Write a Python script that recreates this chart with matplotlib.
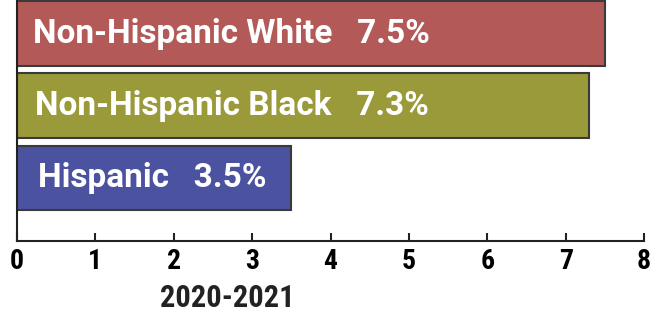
import matplotlib
matplotlib.use('Agg')
import matplotlib.pyplot as plt

# data
groups = ['Hispanic', 'Non-Hispanic Black', 'Non-Hispanic White']
values = [3.5, 7.3, 7.5]
colors = ['#4b53a0', '#9a9a3a', '#b35a58']
xticks = [0, 1, 2, 3, 4, 5, 6, 7, 8]
xlabel = '2020-2021'

narrow = ['Roboto Condensed', 'Liberation Sans Narrow', 'DejaVu Sans']
label_x = [0.27, 0.23, 0.2]

fig = plt.figure(figsize=(6.59, 3.14), dpi=100)
ax = fig.add_axes([17/659, 73/314, 627/659, 241/314])

ypos = list(range(len(groups)))
ax.barh(ypos, values, height=0.9, color=colors, edgecolor='#3a3a3a', linewidth=1.5, zorder=2)

for y, lx, g, v in zip(ypos, label_x, groups, values):
    ax.text(lx, y, g + '   ' + str(v) + '%', color='white', fontsize=24,
            fontweight='bold', family=['Roboto', 'DejaVu Sans'], va='center', ha='left', zorder=3)

ax.set_xlim(0, 8)
ax.set_ylim(-0.875, 2.47)
ax.set_xticks(xticks)
ax.set_xticklabels([str(t) for t in xticks], family=narrow, fontweight='bold',
                   fontstretch='condensed', fontsize=20)
ax.set_yticks([])
ax.tick_params(axis='x', direction='in', length=6, width=1.5, color='#222222', pad=5)
for s in ['top', 'right']:
    ax.spines[s].set_visible(False)
ax.spines['left'].set_linewidth(1.5)
ax.spines['bottom'].set_linewidth(1.5)
ax.spines['left'].set_color('#222222')
ax.spines['bottom'].set_color('#222222')

fig.text(227/659, 16/314, xlabel, family=narrow, fontweight='bold', fontstretch='condensed',
         fontsize=22, ha='center', va='center', color='#222222')

fig.savefig('out.png', dpi=100)
